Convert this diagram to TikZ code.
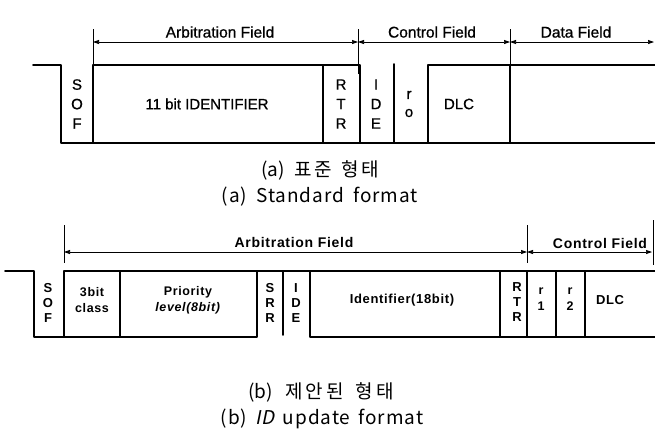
\documentclass[tikz,border=0pt]{standalone}
\usepackage{fontspec}
\setmainfont{Liberation Sans}
\newfontfamily\afont[FakeBold=0.8]{Liberation Sans}
\newfontfamily\krfont{Noto Sans CJK KR}
\newfontfamily\enfont[LetterSpace=5]{Noto Sans CJK KR}
\newfontfamily\enslant[LetterSpace=5, FakeSlant=0.2]{Noto Sans CJK KR}
\newfontfamily\spfont[LetterSpace=5]{Liberation Sans}
\usetikzlibrary{arrows.meta, positioning}

\begin{document}
\begin{tikzpicture}[
    x=1pt, y=-1pt,
    frame/.style={line width=1.7pt, line cap=round, line join=round},
    tick/.style={line width=0.7pt},
    dim/.style={line width=0.7pt, {Triangle[length=6pt,width=4pt]}-{Triangle[length=6pt,width=4pt]}},
    lbl/.style={font=\afont\fontsize{15.5}{17}\selectfont, inner sep=0pt},
    bit/.style={font=\afont\fontsize{15}{19.5}\selectfont, align=center, inner sep=0pt},
    blbl/.style={font=\spfont\bfseries\fontsize{14}{16}\selectfont, inner sep=0pt},
    bbit/.style={font=\spfont\bfseries\fontsize{13}{15}\selectfont, align=center, inner sep=0pt},
    krcap/.style={font=\krfont\fontsize{19}{21}\selectfont, inner sep=0pt},
    encap/.style={font=\enfont\fontsize{19}{21}\selectfont, inner sep=0pt}
]
\useasboundingbox (0,0) rectangle (655,432);

% (a) standard format
\coordinate (a0) at (93,42);
\coordinate (a1) at (358,42);
\coordinate (a2) at (510,42);
\coordinate (a3) at (654,42);
\foreach \p in {a0,a1,a2}
  \draw[tick] ([yshift=-32pt]\p) -- ([yshift=13pt]\p);
\draw[dim] (a0) -- (a1);
\draw[dim] (a1) -- (a2);
\draw[dim] (a2) -- (a3);
\node[lbl] (arbA) at (220,32) {Arbitration Field};
\node[lbl] (ctlA) at (432,32) {Control Field};
\node[lbl] (datA) at (576,32) {Data Field};

\draw[frame] (33,65) -- (61,65) -- (61,143) -- (655,143);
\draw[frame] (93,143) -- (93,65) -- (360,65) -- (360,143);
\draw[frame] (323,65) -- (323,143);
\draw[frame] (394,64) -- (394,143);
\draw[frame] (428,143) -- (428,65) -- (655,65);
\draw[frame] (510,65) -- (510,143);

\node[bit] (sofA) at (77,104) {S\\O\\F};
\node[bit] (idA) at (207,104) {11 bit IDENTIFIER};
\node[bit] (rtrA) at (341,104) {R\\T\\R};
\node[bit] (ideA) at (376,104) {I\\D\\E};
\node[bit, font=\afont\fontsize{15}{18}\selectfont] (r0A) at (409,104) {r\\o};
\node[bit] (dlcA) at (459,104) {DLC};

\node[krcap] (capA1) at (320,170) {(a)\hspace{10pt}표\hspace{2pt}준\hspace{10pt}형\hspace{2pt}태};
\node[encap] (capA2) at (320,197) {(a)\hspace{9pt}Standard\hspace{9pt}format};

% (b) ID update format
\coordinate (b0) at (64,252);
\coordinate (b1) at (527,252);
\coordinate (b2) at (652,252);
\draw[tick] (64,225) -- (64,263);
\draw[tick] (527,225) -- (527,263);
\draw[tick] (653,220) -- (653,265);
\draw[dim] (b0) -- (b1);
\draw[dim] (b1) -- (b2);
\node[blbl] (arbB) at (294,242) {Arbitration Field};
\node[blbl] (ctlB) at (600,243) {Control Field};

\draw[frame] (5,271) -- (34,271) -- (34,337) -- (257,337) -- (257,271);
\draw[frame] (64,337) -- (64,271) -- (655,271);
\draw[frame] (120,271) -- (120,337);
\draw[frame] (283,271) -- (283,335);
\draw[frame] (310,271) -- (310,337) -- (655,337);
\foreach \x in {500,527,556,585}
  \draw[frame] (\x,271) -- (\x,337);

\node[bbit] (sofB) at (48,303) {S\\O\\F};
\node[bbit, font=\spfont\bfseries\fontsize{12.5}{16}\selectfont] (clsB) at (92,300) {3bit\\class};
\node[bbit, font=\spfont\bfseries\fontsize{12.5}{16}\selectfont] (priB) at (188,300) {Priority\\\textit{level(8bit)}};
\node[bbit] (srrB) at (270,303) {S\\R\\R};
\node[bbit] (ideB) at (296,303) {I\\D\\E};
\node[bbit] (idB) at (402,300) {Identifier(18bit)};
\node[bbit] (rtrB) at (517,302) {R\\T\\R};
\node[bbit, font=\spfont\bfseries\fontsize{12.5}{16}\selectfont] (r1B) at (541,299) {r\\1};
\node[bbit, font=\spfont\bfseries\fontsize{12.5}{16}\selectfont] (r2B) at (570,299) {r\\2};
\node[bbit] (dlcB) at (610,300) {DLC};

\node[krcap] (capB1) at (321,392) {(b)\hspace{12pt}제\hspace{3pt}안\hspace{3pt}된\hspace{12pt}형\hspace{3pt}태};
\node[encap] (capB2) at (322,419) {(b)\hspace{8pt}{\enslant ID}\hspace{8pt}update\hspace{8pt}format};

\end{tikzpicture}
\end{document}
